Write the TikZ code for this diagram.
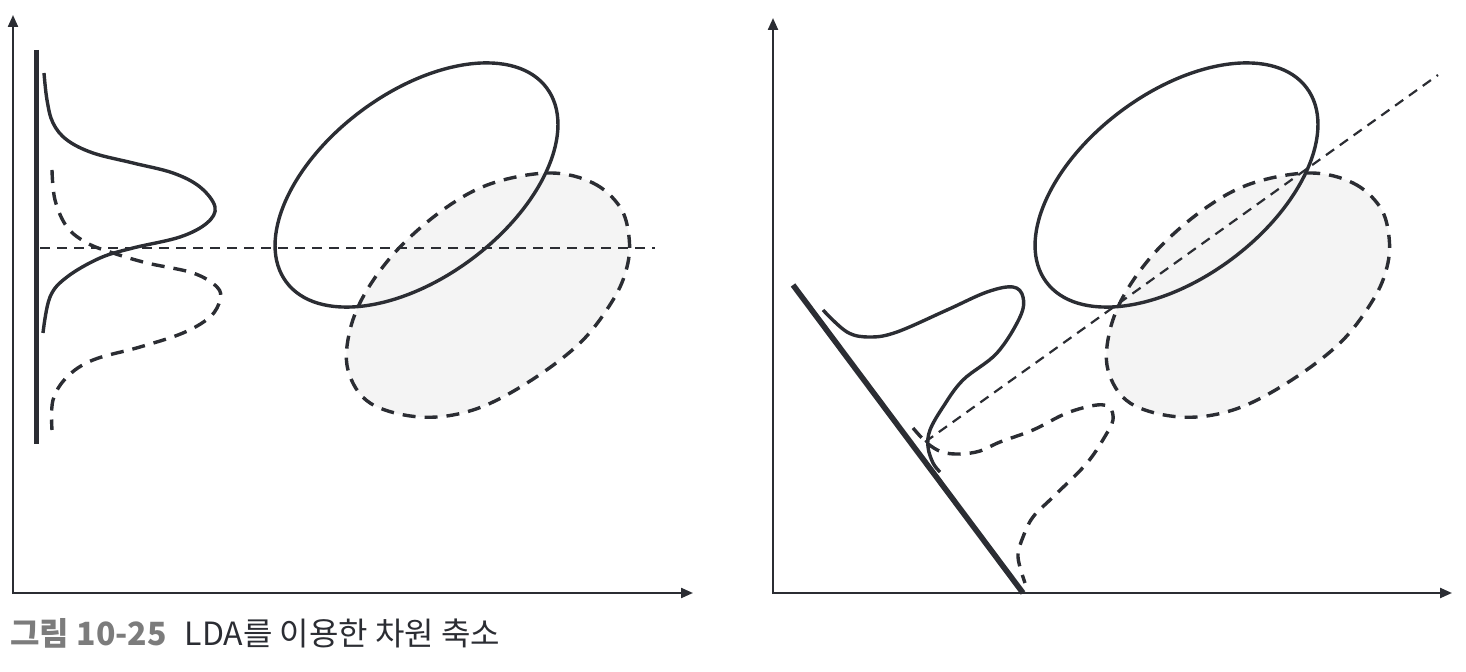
\documentclass[tikz,border=0pt]{standalone}
\usepackage{fontspec}
\newfontfamily\kr{Noto Sans CJK KR}
\usetikzlibrary{arrows.meta}
\definecolor{ink}{HTML}{2B2D33}
\definecolor{shade}{HTML}{F4F4F4}
\definecolor{capgray}{HTML}{7C7C7C}
\begin{document}
\begin{tikzpicture}[x=0.5pt,y=-0.5pt,
  axis/.style={draw=ink, line width=1.1pt, line join=miter, {Triangle[length=6pt,width=5pt]}-{Triangle[length=6pt,width=5pt]}},
  curve/.style={draw=ink, line width=1.7pt},
  dcurve/.style={draw=ink, line width=1.7pt, dash pattern=on 6.5pt off 4.5pt},
  thindash/.style={draw=ink, line width=1.1pt, dash pattern=on 5pt off 3.5pt},
  bar/.style={draw=ink, line width=2.8pt},
  egg/.style={dcurve, fill=shade},
  ell/.style={curve}]
\useasboundingbox (0,0) rectangle (1466,672);

% ---------- left panel ----------
\coordinate (ly) at (13,15);
\coordinate (lo) at (13,593);
\coordinate (lx) at (693,593);
\draw[axis] (ly) -- (lo) -- (lx);

\draw[egg] plot[smooth cycle, tension=0.6] coordinates {(550,173) (593,183) (620,207) (629,237) (627,267) (613,300) (580,343) (527,383) (473,410) (420,417) (370,403) (348,370) (350,330) (367,290) (400,247) (447,207) (493,183)};
\draw[ell, rotate around={36.7:(416.5,185)}] (416.5,185) ellipse [x radius=162.4, y radius=92.4];

\coordinate (lh1) at (40,248);
\coordinate (lh2) at (655,248);
\draw[thindash] (lh1) -- (lh2);

\coordinate (lb1) at (36.5,50);
\coordinate (lb2) at (36.5,444);
\draw[bar] (lb1) -- (lb2);

\draw[curve] plot[smooth, tension=0.6] coordinates {(44,73) (47,100) (53,123) (67,140) (93,153) (133,163) (173,173) (200,187) (215,207) (207,223) (180,237) (133,248) (100,258) (67,277) (50,297) (43,333)};
\draw[dcurve] plot[smooth, tension=0.6] coordinates {(52,170) (55,200) (67,227) (87,243) (113,253) (147,263) (193,273) (217,287) (220,300) (210,317) (183,333) (140,347) (93,360) (67,377) (53,400) (52,430)};

% ---------- right panel ----------
\coordinate (ry) at (773,18);
\coordinate (ro) at (773,593);
\coordinate (rx) at (1452,593);
\draw[axis] (ry) -- (ro) -- (rx);

\begin{scope}[xshift=380pt]
\draw[egg] plot[smooth cycle, tension=0.6] coordinates {(550,173) (593,183) (620,207) (629,237) (627,267) (613,300) (580,343) (527,383) (473,410) (420,417) (370,403) (348,370) (350,330) (367,290) (400,247) (447,207) (493,183)};
\draw[ell, rotate around={36.7:(416.5,185)}] (416.5,185) ellipse [x radius=162.4, y radius=92.4];
\end{scope}

\coordinate (rd1) at (925,442);
\coordinate (rd2) at (1438,75);
\draw[thindash] (rd1) -- (rd2);

\coordinate (rb1) at (793,285);
\coordinate (rb2) at (1023,593);
\draw[bar] (rb1) -- (rb2);

\draw[curve] plot[smooth, tension=0.6] coordinates {(823,310) (847,332) (870,337) (897,332) (947,310) (987,292) (1013,287) (1023,297) (1020,317) (997,353) (963,380) (943,407) (930,430) (928,447) (933,463) (940,472)};
\draw[dcurve] plot[smooth, tension=0.6] coordinates {(913,428) (927,443) (942,452) (960,454) (980,451) (1000,442) (1033,430) (1067,413) (1097,405) (1110,408) (1113,420) (1107,433) (1087,463) (1053,497) (1033,517) (1023,537) (1018,557) (1025,583)};

% ---------- caption ----------
\node[anchor=base west, inner sep=0pt, font=\kr\fontsize{16}{19}\selectfont] (cap) at (10,646)
  {{\bfseries\color{capgray}그림 10-25}\hspace{9pt}{\color{ink}LDA를 이용한 차원 축소}};
\end{tikzpicture}
\end{document}
